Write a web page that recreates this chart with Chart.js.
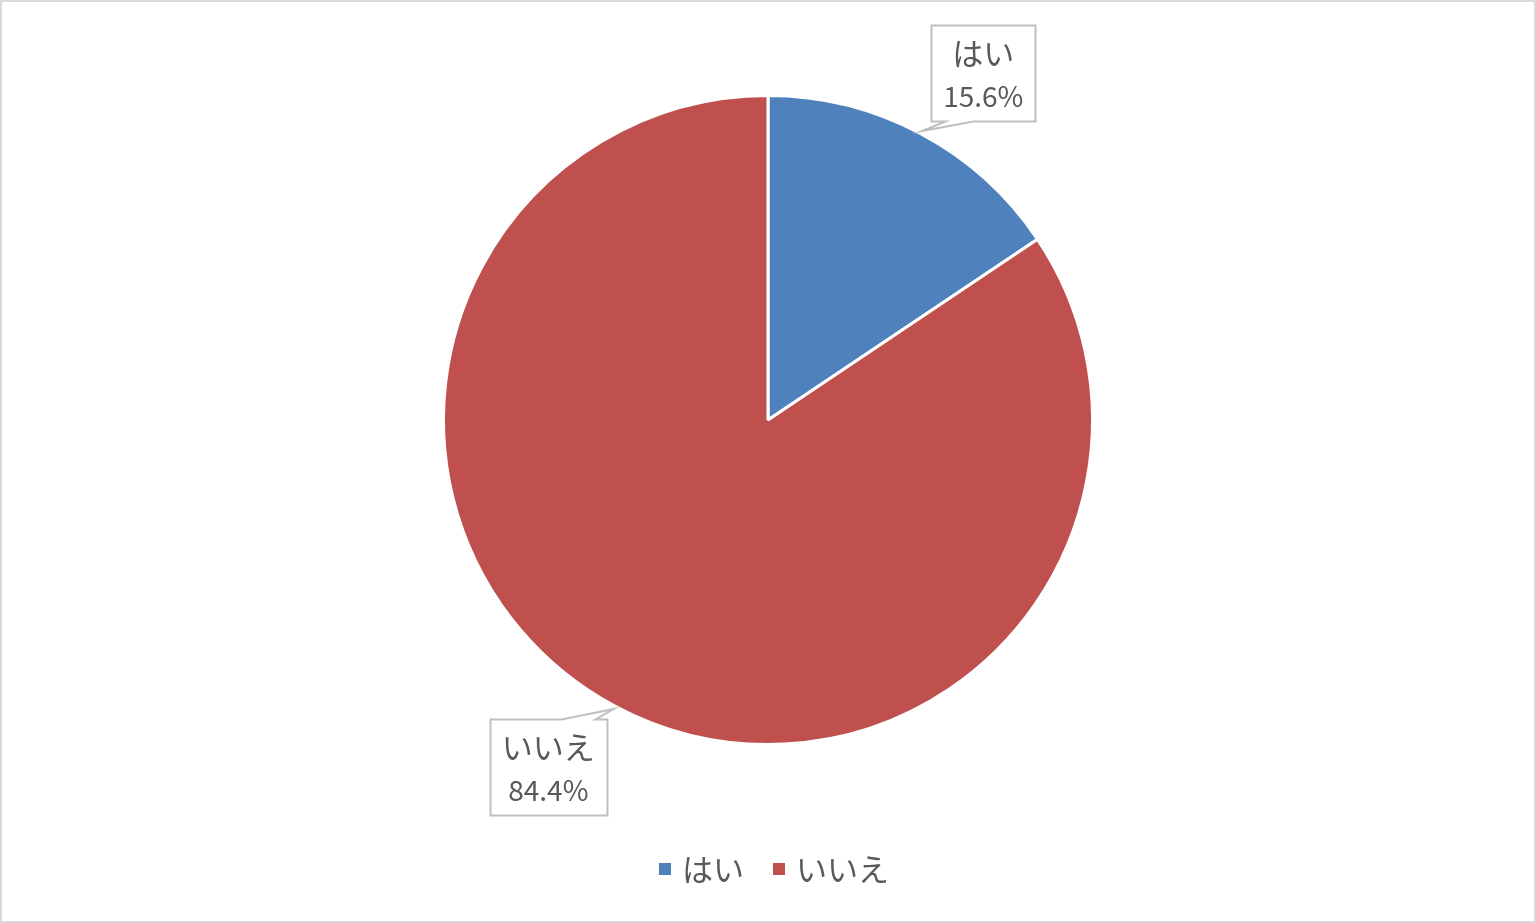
<!DOCTYPE html>
<html><head><meta charset="utf-8">
<script src="https://cdn.jsdelivr.net/npm/chart.js@4"></script>
<style>
html,body{margin:0;padding:0;background:#fff;}
#wrap{position:relative;width:1536px;height:923px;box-sizing:border-box;border:2px solid #D9D9D9;}
canvas{display:block;}
</style></head><body>
<div id="wrap"><canvas id="c" width="1532" height="919"></canvas></div>
<script>
const categories = ['はい', 'いいえ'];
const values = [15.6, 84.4];
const colors = ['#4F81BD', '#C0504D'];
const FONT = '"Noto Sans CJK JP", "Noto Sans", sans-serif';
const TEXT = '#595959';

const calloutPlugin = {
  id: 'callouts',
  afterDatasetsDraw(chart) {
    const ctx = chart.ctx;
    const meta = chart.getDatasetMeta(0);
    ctx.save();
    meta.data.forEach((arc, i) => {
      const mid = (arc.startAngle + arc.endAngle) / 2;
      const r = arc.outerRadius + 3;
      const tx = arc.x + Math.cos(mid) * r;
      const ty = arc.y + Math.sin(mid) * r;
      const l1 = categories[i];
      const l2 = values[i].toFixed(1) + '%';
      ctx.font = '31px ' + FONT;
      const w1 = ctx.measureText(l1).width;
      ctx.font = '28px ' + FONT;
      const w2 = ctx.measureText(l2).width;
      const w = Math.max(w1, w2) + 24;
      const h = 96;
      const sx = Math.cos(mid) >= 0 ? 1 : -1;
      const sy = Math.sin(mid) >= 0 ? 1 : -1;
      const left = sx > 0 ? tx + 9 : tx - 7 - w;
      const top = sy < 0 ? ty - 10 - h : ty + 10;
      const cx = left + w / 2;
      const cy = top + h / 2;
      const x0 = Math.round(left) + 0.5, x1 = Math.round(left + w) + 0.5;
      const y0 = Math.round(top) + 0.5, y1 = Math.round(top + h) + 0.5;
      ctx.beginPath();
      if (sy < 0) {
        ctx.moveTo(x0, y0); ctx.lineTo(x1, y0); ctx.lineTo(x1, y1);
        ctx.lineTo(x0 + 42, y1); ctx.lineTo(tx, ty); ctx.lineTo(x0 + 14, y1);
        ctx.lineTo(x0, y1); ctx.closePath();
      } else {
        ctx.moveTo(x0, y0); ctx.lineTo(x1 - 46, y0); ctx.lineTo(tx, ty);
        ctx.lineTo(x1 - 12, y0); ctx.lineTo(x1, y0); ctx.lineTo(x1, y1);
        ctx.lineTo(x0, y1); ctx.closePath();
      }
      ctx.fillStyle = '#fff';
      ctx.fill();
      ctx.strokeStyle = '#BFBFBF';
      ctx.lineWidth = 2;
      ctx.stroke();
      ctx.fillStyle = TEXT;
      ctx.textAlign = 'center';
      ctx.textBaseline = 'middle';
      ctx.font = '31px ' + FONT;
      ctx.fillText(l1, cx, cy - 20);
      ctx.font = '28px ' + FONT;
      ctx.fillText(l2, cx, cy + 23);
    });
    ctx.restore();
  }
};

const legendPlugin = {
  id: 'customLegend',
  afterDraw(chart) {
    const ctx = chart.ctx;
    ctx.save();
    ctx.font = '31px ' + FONT;
    const box = 12, gap = 11, itemGap = 29;
    const widths = categories.map(c => box + gap + ctx.measureText(c).width);
    const total = widths.reduce((a, b) => a + b, 0) + itemGap * (categories.length - 1);
    let x = chart.width / 2 + 6 - total / 2;
    const y = 867;
    categories.forEach((c, i) => {
      ctx.fillStyle = colors[i];
      ctx.fillRect(Math.round(x), y - box / 2, box, box);
      ctx.fillStyle = TEXT;
      ctx.textAlign = 'left';
      ctx.textBaseline = 'middle';
      ctx.fillText(c, x + box + gap, y);
      x += widths[i] + itemGap;
    });
    ctx.restore();
  }
};

new Chart(document.getElementById('c'), {
  type: 'pie',
  data: {
    labels: categories,
    datasets: [{
      data: values,
      backgroundColor: colors,
      borderColor: '#ffffff',
      borderWidth: 3
    }]
  },
  options: {
    responsive: false,
    animation: false,
    layout: { padding: { top: 92, bottom: 175, left: 0, right: 0 } },
    plugins: {
      legend: { display: false },
      tooltip: { enabled: false }
    }
  },
  plugins: [calloutPlugin, legendPlugin]
});
</script>
</body></html>
